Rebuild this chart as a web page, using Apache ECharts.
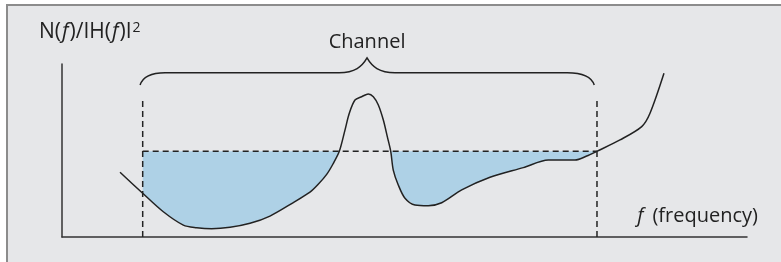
<!DOCTYPE html>
<html><head><meta charset="utf-8">
<script src="https://cdn.jsdelivr.net/npm/echarts@6/dist/echarts.min.js"></script>
<style>html,body{margin:0;padding:0;background:#fff}#c{width:781px;height:262px}</style>
</head><body><div id="c"></div>
<script>
// N(f)/|H(f)|^2 curve, x and y in arbitrary units (0..100)
const curveX = [8.47, 11.78, 14.79, 17.71, 19.66, 21.85, 24.53, 27.45, 30.36, 33.77, 36.2, 37.37, 38.64, 39.56, 40.48,
  41.31, 41.94, 42.77, 43.75, 44.72, 45.45, 46.18, 46.91, 47.49, 47.99, 48.36, 49.09, 50.07, 51.53, 53.47,
  55.43, 58.35, 62.48, 67.34, 70.99, 74.89, 76.6, 78.06, 81.46, 84.63, 85.84, 87.88];
const curveY = [37.4, 25.3, 14.6, 6.9, 5.4, 4.8, 5.6, 7.9, 12.1, 19.9, 25.9, 30.3, 36.2, 42.2, 49.5,
  61.8, 71.5, 79.2, 81.1, 82.7, 81.1, 76.3, 67.6, 58.0, 49.5, 38.7, 30.1, 22.4, 18.5, 18.1,
  19.8, 27.2, 34.5, 40.1, 44.5, 44.5, 46.8, 49.5, 56.1, 63.8, 71.5, 94.6];
const channel = [11.78, 78.1];      // channel band edges (x)
const waterLevel = 49.5;           // water-filling level (y)
const guideTop = 80.9;             // top of dashed band edges (y)
const braceX = [11.4, 44.53, 77.7];  // left end, tip, right end
const braceY = [87.9, 95.0, 103.5];  // end y, bar y, tip y
const labels = {channel: 'Channel', xName: 'f (frequency)'};

const pts = curveX.map((x, i) => [x, curveY[i]]);
function interp(a, b, x) { const t = (x - a[0]) / (b[0] - a[0]); return [x, a[1] + t * (b[1] - a[1])]; }
const clipped = [];
for (let i = 0; i < pts.length; i++) {
  const p = pts[i];
  if (i > 0) {
    const q = pts[i - 1];
    if (q[0] < channel[0] && p[0] > channel[0]) clipped.push(interp(q, p, channel[0]));
    if (q[0] < channel[1] && p[0] > channel[1]) clipped.push(interp(q, p, channel[1]));
  }
  if (p[0] >= channel[0] && p[0] <= channel[1]) clipped.push(p);
}
const runs = []; let run = null;
for (let i = 0; i < clipped.length; i++) {
  const p = clipped[i];
  const below = p[1] <= waterLevel;
  if (i > 0) {
    const q = clipped[i - 1]; const qb = q[1] <= waterLevel;
    if (qb !== below) {
      const t = (waterLevel - q[1]) / (p[1] - q[1]);
      const c = [q[0] + t * (p[0] - q[0]), waterLevel];
      if (run) { run.push(c); runs.push(run); run = null; } else run = [c];
    }
  }
  if (below) { if (!run) run = []; run.push(p); }
}
if (run) runs.push(run);

const chart = echarts.init(document.getElementById('c'));
const FONT = '"Open Sans", sans-serif';
chart.setOption({
  backgroundColor: '#fff',
  animation: false,
  graphic: [
    {type: 'rect', z: -10, shape: {x: 7, y: 5, width: 781, height: 262}, style: {fill: '#e6e7e9'}},
    {type: 'line', z: -9, shape: {x1: 6, y1: 5, x2: 781, y2: 5}, style: {stroke: '#8c8c8c', lineWidth: 2}},
    {type: 'line', z: -9, shape: {x1: 7, y1: 4, x2: 7, y2: 262}, style: {stroke: '#8c8c8c', lineWidth: 2}},
    {type: 'text', left: 39, top: 21, style: {
      text: '{n|N(}{i|f}{n|)/IH(}{i|f}{n|)I}{s|2}',
      rich: {
        n: {fontFamily: FONT, fontSize: 21, fill: '#222'},
        i: {fontFamily: FONT, fontSize: 21, fontStyle: 'italic', fill: '#222', padding: [0, 1, 0, 1]},
        s: {fontFamily: FONT, fontSize: 14, fill: '#222', padding: [0, 0, 8, 1]}
      }
    }},
    {type: 'text', right: 23, top: 206, style: {
      text: '{i|f}{n|(frequency)}',
      rich: {
        n: {fontFamily: FONT, fontSize: 20, fill: '#222'},
        i: {fontFamily: FONT, fontSize: 20, fontStyle: 'italic', fill: '#222', padding: [0, 9, 0, 0]}
      }
    }}
  ],
  grid: {left: 62, right: 34, top: 64, bottom: 25},
  xAxis: {type: 'value', min: 0, max: 100, axisLine: {show: true, lineStyle: {color: '#333', width: 1.5}},
    axisTick: {show: false}, axisLabel: {show: false}, splitLine: {show: false}},
  yAxis: {type: 'value', min: 0, max: 100, axisLine: {show: true, lineStyle: {color: '#333', width: 1.5}},
    axisTick: {show: false}, axisLabel: {show: false}, splitLine: {show: false}},
  series: [
    {type: 'custom', silent: true, z: 1, data: [[0, 0]],
      renderItem: (params, api) => ({type: 'group', children: runs.map(r => ({
        type: 'polygon',
        shape: {points: r.concat([[r[r.length - 1][0], waterLevel], [r[0][0], waterLevel]]).map(p => api.coord(p))},
        style: {fill: '#aed1e6'}
      }))})},
    {type: 'custom', silent: true, z: 2, data: [[0, 0]],
      renderItem: (params, api) => {
        const a = api.coord([channel[0], 0]), b = api.coord([channel[0], guideTop]);
        const c = api.coord([channel[1], 0]), d = api.coord([channel[1], guideTop]);
        const e = api.coord([channel[0], waterLevel]), f = api.coord([channel[1], waterLevel]);
        const st = {stroke: '#222', lineWidth: 1.5, lineDash: [6, 4], fill: null};
        return {type: 'group', children: [
          {type: 'line', shape: {x1: a[0], y1: a[1], x2: b[0], y2: b[1]}, style: st},
          {type: 'line', shape: {x1: c[0], y1: c[1], x2: d[0], y2: d[1]}, style: st},
          {type: 'line', shape: {x1: e[0], y1: e[1], x2: f[0], y2: f[1]}, style: st}
        ]};
      }},
    {type: 'line', data: pts, showSymbol: false, symbol: 'none', smooth: 0.3, z: 3, silent: true,
      lineStyle: {color: '#222', width: 1.5}},
    {type: 'custom', silent: true, z: 3, data: [[0, 0]], clip: false,
      renderItem: (params, api) => {
        const L = api.coord([braceX[0], braceY[0]]);
        const R = api.coord([braceX[2], braceY[0]]);
        const T = api.coord([braceX[1], braceY[2]]);
        const yb = api.coord([braceX[1], braceY[1]])[1];
        const p = [
          'M', L[0], L[1],
          'Q', L[0] + 4, yb, L[0] + 25, yb,
          'L', T[0] - 28, yb,
          'C', T[0] - 12, yb, T[0] - 5, yb - 6, T[0], T[1],
          'C', T[0] + 5, yb - 6, T[0] + 12, yb, T[0] + 28, yb,
          'L', R[0] - 27, yb,
          'Q', R[0] - 4, yb, R[0], R[1]
        ].join(' ');
        return {type: 'group', children: [
          {type: 'path', shape: {pathData: p}, style: {stroke: '#222', lineWidth: 1.5, fill: null}},
          {type: 'text', x: T[0], y: T[1] - 16, style: {text: labels.channel, fontFamily: FONT, fontSize: 20,
            fill: '#222', align: 'center', verticalAlign: 'middle'}}
        ]};
      }}
  ]
});
</script></body></html>
